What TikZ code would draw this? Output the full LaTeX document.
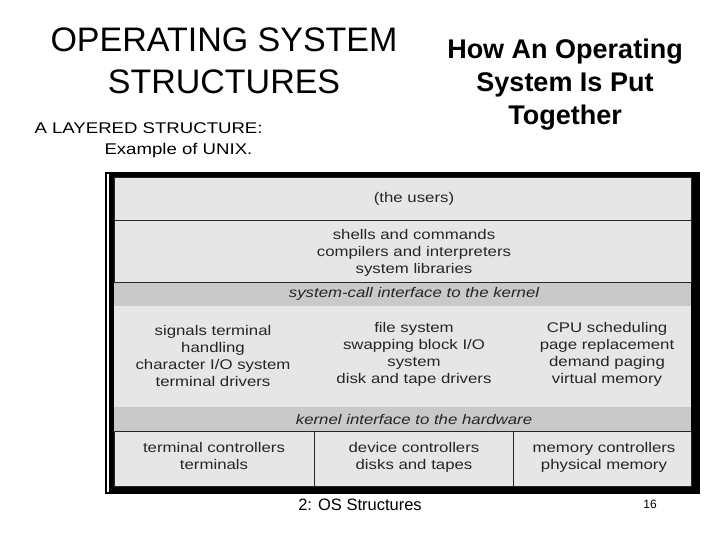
\documentclass[tikz,border=0pt]{standalone}
\usepackage{fontspec}
\setmainfont{Liberation Sans}
\newfontfamily\widefont[FakeStretch=1.2]{Liberation Sans}
\usetikzlibrary{positioning, calc}
\definecolor{panel}{HTML}{E6E6E6}
\definecolor{band}{HTML}{C9C9C9}
\definecolor{ink}{HTML}{262626}
\begin{document}
\begin{tikzpicture}[x=1pt, y=-1pt,
  layer/.style={draw=ink, line width=1pt, fill=panel},
  txt/.style={align=center, text=ink, font=\widefont\fontsize{14}{17}\selectfont, inner sep=0pt},
  mtxt/.style={txt, anchor=north},
  itxt/.style={txt, font=\widefont\fontsize{14}{17}\selectfont\itshape}]
\useasboundingbox (0,0) rectangle (720,540);
% titles
\node (title) [align=center, font=\fontsize{34}{42}\selectfont] at (224,61) {OPERATING SYSTEM\\STRUCTURES};
\node (howto) [align=center, font=\fontsize{27}{33}\selectfont\bfseries] at (565,85) {How An Operating\\System Is Put\\Together};
\node (layered) [anchor=west, font=\widefont\fontsize{15.5}{18}\selectfont] at (31,128) {A LAYERED STRUCTURE:};
\node (unix) [anchor=west, font=\widefont\fontsize{15.5}{18}\selectfont] at (101,150) {Example of UNIX.};
% frame
\fill[black] (105,172) rectangle (700,494);
\fill[white] (107,174) rectangle (109,492);
\fill[panel] (114,178) rectangle (691,486);
% layers
\draw[layer] (114,178) rectangle (691,221);
\draw[layer] (114,221) rectangle (691,282);
\draw[layer, fill=band, draw=none] (114,282) rectangle (691,306);
\draw[layer, draw=none] (114,306) rectangle (691,407);
\draw[layer, fill=band, draw=none] (114,407) rectangle (691,431);
\draw[ink, line width=1pt] (114,282) -- (691,282) (114,431) -- (691,431);
\draw[layer] (114,431) rectangle (314,486);
\draw[layer] (314,431) rectangle (513,486);
\draw[layer] (513,431) rectangle (691,486);
% labels
\node (users) [txt] at (414,199) {(the users)};
\node (shells) [mtxt] at (414,229) {shells and commands\\compilers and interpreters\\system libraries};
\node (syscall) [itxt] at (414,294) {system-call interface to the kernel};
\node (signals) [mtxt] at (213,325) {signals terminal\\handling\\character I/O system\\terminal drivers};
\node (filesys) [mtxt] at (414,322) {file system\\swapping block I/O\\system\\disk and tape drivers};
\node (cpu) [mtxt] at (607,322) {CPU scheduling\\page replacement\\demand paging\\virtual memory};
\node (kernel) [itxt] at (414,419) {kernel interface to the hardware};
\node (termctl) [mtxt] at (214,442) {terminal controllers\\terminals};
\node (devctl) [mtxt] at (414,442) {device controllers\\disks and tapes};
\node (memctl) [mtxt] at (604,442) {memory controllers\\physical memory};
% footer
\node (footer) [font=\fontsize{16.5}{18}\selectfont] at (360,505) {2: OS Structures};
\node (page) [font=\fontsize{12}{14}\selectfont] at (650,504) {16};
\end{tikzpicture}
\end{document}
